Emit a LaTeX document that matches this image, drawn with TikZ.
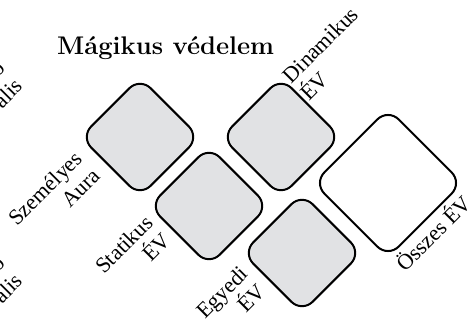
\documentclass[tikz,border=0pt]{standalone}
\usepackage{fontspec}
\usepackage{tikz}
\newfontfamily\lblfont{Liberation Serif}
\definecolor{sqgray}{RGB}{225,226,228}
\begin{document}
\begin{tikzpicture}[x=1pt,y=-1pt,
  sq/.style={draw=black, line width=2pt, fill=sqgray, rounded corners=15pt, rotate=45, minimum size=84pt, inner sep=0pt},
  lbl/.style={font=\lblfont\fontsize{22}{25}\selectfont, rotate=45, inner sep=0pt},
  ttl/.style={font=\bfseries\fontsize{25.5}{30}\selectfont, inner sep=0pt}]
\useasboundingbox (0,0) rectangle (473,320);
\node[ttl, anchor=base west] (title) at (57,55) {Mágikus védelem};
\node[sq] (aura) at (140,137) {};
\node[sq] (stat) at (209,206) {};
\node[sq] (dyn) at (281,137) {};
\node[sq] (egy) at (302,253) {};
\node[sq, fill=white, minimum size=105pt] (all) at (388,183) {};
\node[lbl, anchor=east, align=right] (laura) at (87.5,163.5) {Személyes\\Aura};
\node[lbl, anchor=east, align=right] (lstat) at (158,228) {Statikus\\ÉV};
\node[lbl, anchor=east, align=right] (legy) at (253,279) {Egyedi\\ÉV};
\node[lbl, anchor=west, align=left] (ldyn) at (295,88) {Dinamikus\\ÉV};
\node[lbl, anchor=base west] (lall) at (405,273) {Összes ÉV};
\node[lbl, anchor=east, align=right] (lfragA) at (11.75,75) {o\\ális};
\node[lbl, anchor=east, align=right] (lfragB) at (11.75,270) {o\\ális};
\end{tikzpicture}
\end{document}
